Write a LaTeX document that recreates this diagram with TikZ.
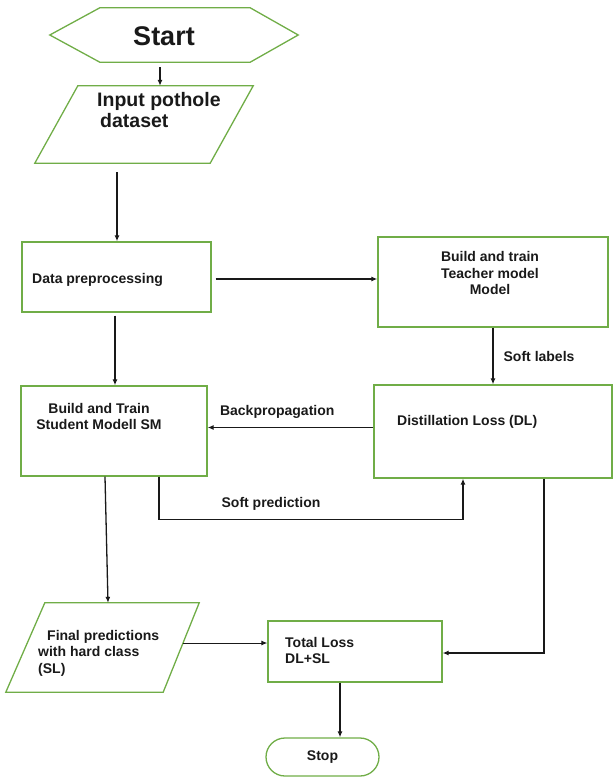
\documentclass[tikz,border=0pt]{standalone}
\usepackage{fontspec}
\setmainfont{Liberation Sans}
\usetikzlibrary{arrows.meta,calc}
\definecolor{boxgreen}{RGB}{112,173,71}
\definecolor{ink}{RGB}{25,25,25}
\begin{document}
\begin{tikzpicture}[x=1pt,y=-1pt,
  outline/.style={draw=boxgreen,line width=1.3pt},
  boxnode/.style={outline,rectangle,inner sep=0pt},
  blank/.style={inner sep=0pt},
  txt/.style={font=\bfseries\fontsize{14}{16.5}\selectfont,text=ink,inner sep=0pt},
  arr/.style={draw=ink,line width=1.3pt,-{Latex[length=6pt,width=5pt]}},
  lbl/.style={txt}]
\path[use as bounding box] (0,0) rectangle (614,778);

% Start
\node[blank,minimum width=248pt,minimum height=54pt] (start) at (174,35) {};
\draw[outline] (start.west) -- ([xshift=50pt]start.north west) -- ([xshift=-48pt]start.north east)
  -- (start.east) -- ([xshift=-48pt]start.south east) -- ([xshift=50pt]start.south west) -- cycle;
\node[txt,font=\bfseries\fontsize{27}{30}\selectfont] (starttxt) at (164,36) {Start};

% Input
\node[blank,minimum width=218pt,minimum height=77pt] (input) at (144,124.5) {};
\draw[outline] ([xshift=43pt]input.north west) -- (input.north east)
  -- ([xshift=-43pt]input.south east) -- (input.south west) -- cycle;
\node[txt,font=\bfseries\fontsize{19.5}{21}\selectfont,align=left,anchor=north west] (inputtxt) at (97,92) {Input pothole\\\hspace*{3pt}dataset};

% Data preprocessing
\node[boxnode,minimum width=189pt,minimum height=70pt] (prep) at (116.5,277) {};
\node[txt,anchor=west] (preptxt) at (32,280) {Data preprocessing};

% Teacher
\node[boxnode,minimum width=230pt,minimum height=90pt] (teacher) at (493,282) {};
\node[txt,align=center] (teachertxt) at (490,273) {Build and train\\Teacher model\\Model};

% Distillation loss
\node[boxnode,minimum width=238pt,minimum height=93pt] (dl) at (493,431.5) {};
\node[txt,anchor=west] (dltxt) at (397,422) {Distillation Loss (DL)};

% Student
\node[boxnode,minimum width=186pt,minimum height=90pt] (student) at (114,431) {};
\node[txt,align=center] (studenttxt) at (99,416.5) {Build and Train\\Student Modell SM};

% Final predictions
\node[blank,minimum width=193pt,minimum height=89pt] (final) at (102.5,647.5) {};
\draw[outline] ([xshift=39pt]final.north west) -- (final.north east)
  -- ([xshift=-36pt]final.south east) -- (final.south west) -- cycle;
\node[txt,align=left,anchor=west] (finaltxt) at (38,653) {\hspace*{9pt}Final predictions\\with hard class\\(SL)};

% Total loss
\node[boxnode,minimum width=174pt,minimum height=61pt] (total) at (355,651.5) {};
\node[txt,align=left,anchor=west] (totaltxt) at (285,650.5) {Total Loss\\DL+SL};

% Stop
\node[outline,rounded corners=19pt,minimum width=113pt,minimum height=38pt,inner sep=0pt,txt] (stop) at (322.5,757) {Stop};

% Connectors
\draw[arr] ([xshift=-14pt,yshift=-5pt]start.south) -- ([xshift=16pt]input.north);
\draw[arr] ([xshift=-27pt,yshift=-9pt]input.south) -- ([xshift=0.5pt]prep.north);
\draw[arr] ([xshift=4pt,yshift=-2pt]prep.east) -- ([yshift=3pt]teacher.west);
\draw[arr] (teacher.south) -- (dl.north) node[lbl,midway,right=10pt] (softlbl) {Soft labels};
\draw[arr] ([xshift=-1.5pt,yshift=-3pt]prep.south) -- ([xshift=1pt]student.north);
\draw[arr] ([yshift=4pt]dl.west) -- ([yshift=3.5pt]student.east) node[lbl,pos=0.58,above=8pt] (backlbl) {Backpropagation};
\draw[arr] ([xshift=45pt]student.south) -- ++(0,43) -| ([xshift=-30pt]dl.south);
\node[lbl] (softpred) at (271,504) {Soft prediction};
\draw[arr] ([xshift=-9pt]student.south) -- ([xshift=5.5pt]final.north);
\draw[arr,line width=1pt] ([xshift=-16pt,yshift=4.5pt]final.east) -- ([yshift=8.5pt]total.west);
\draw[arr] ([xshift=51pt]dl.south) |- ([yshift=-1.5pt]total.east);
\draw[arr] ([xshift=-15pt]total.south) -- ([xshift=17.5pt]stop.north);
\end{tikzpicture}
\end{document}
